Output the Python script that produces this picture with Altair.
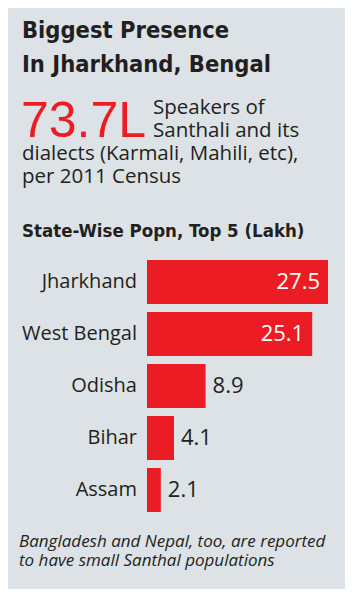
import altair as alt
import pandas as pd

states = ["Jharkhand", "West Bengal", "Odisha", "Bihar", "Assam"]
values = [27.5, 25.1, 8.9, 4.1, 2.1]
value_labels = ["27.5", "25.1", "8.9", "4.1", "2.1"]

RED = "#ec1c24"
INK = "#231f20"
BG = "#dce2e5"
BODY = "Open Sans"
HEAD = "DejaVu Sans Condensed"

df = pd.DataFrame({"state": states, "value": values, "label": value_labels})
df["inside"] = df["value"] > 15

yscale = alt.Scale(domain=states, range=[248, 508], paddingInner=0.1538, paddingOuter=0.0769)
xscale = alt.Scale(domain=[0, 27.5], range=[139, 320])

base = alt.Chart(df)

bars = base.mark_bar(color=RED).encode(
    y=alt.Y("state:N", sort=states, scale=yscale, axis=None),
    x=alt.X("value:Q", scale=xscale, axis=None),
)

cat_labels = base.mark_text(align="right", baseline="middle", font=BODY, fontSize=20, color=INK).encode(
    y=alt.Y("state:N", sort=states, scale=yscale, axis=None),
    x=alt.value(129),
    text="state:N",
)

inside_labels = base.transform_filter("datum.inside").mark_text(
    align="right", baseline="middle", dx=-8, font=BODY, fontSize=22, color="white"
).encode(
    y=alt.Y("state:N", sort=states, scale=yscale, axis=None),
    x=alt.X("value:Q", scale=xscale, axis=None),
    text="label:N",
)

outside_labels = base.transform_filter("!datum.inside").mark_text(
    align="left", baseline="middle", dx=7, font=BODY, fontSize=22, color=INK
).encode(
    y=alt.Y("state:N", sort=states, scale=yscale, axis=None),
    x=alt.X("value:Q", scale=xscale, axis=None),
    text="label:N",
)


def note(text, x, y, size, color=INK, font=BODY, weight="normal", style="normal"):
    return alt.Chart(pd.DataFrame({"t": [text]})).mark_text(
        align="left", baseline="alphabetic", font=font, fontSize=size,
        fontWeight=weight, fontStyle=style, color=color,
    ).encode(x=alt.value(x), y=alt.value(y), text="t:N")


texts = [
    note("Biggest Presence", 14, 30, 23.5, font=HEAD, weight="bold"),
    note("In Jharkhand, Bengal", 14, 64, 23.5, font=HEAD, weight="bold"),
    note("73.7L", 13, 129, 50, color=RED, font="Liberation Sans"),
    note("Speakers of", 145, 106, 20.5),
    note("Santhali and its", 145, 129, 20.5),
    note("dialects (Karmali, Mahili, etc),", 14, 152, 20.5),
    note("per 2011 Census", 14, 175, 20.5),
    note("State-Wise Popn, Top 5 (Lakh)", 14, 229, 18.5, font=HEAD, weight="bold"),
    note("Bangladesh and Nepal, too, are reported", 11, 539, 17, style="italic"),
    note("to have small Santhal populations", 11, 558, 17, style="italic"),
]

chart = alt.layer(bars, cat_labels, inside_labels, outside_labels, *texts).properties(
    width=337, height=581, background=BG, padding=0,
    autosize=alt.AutoSizeParams(type="none"),
).configure_view(stroke=None)

chart.save("out.html", embed_options={"renderer": "svg", "actions": False})
